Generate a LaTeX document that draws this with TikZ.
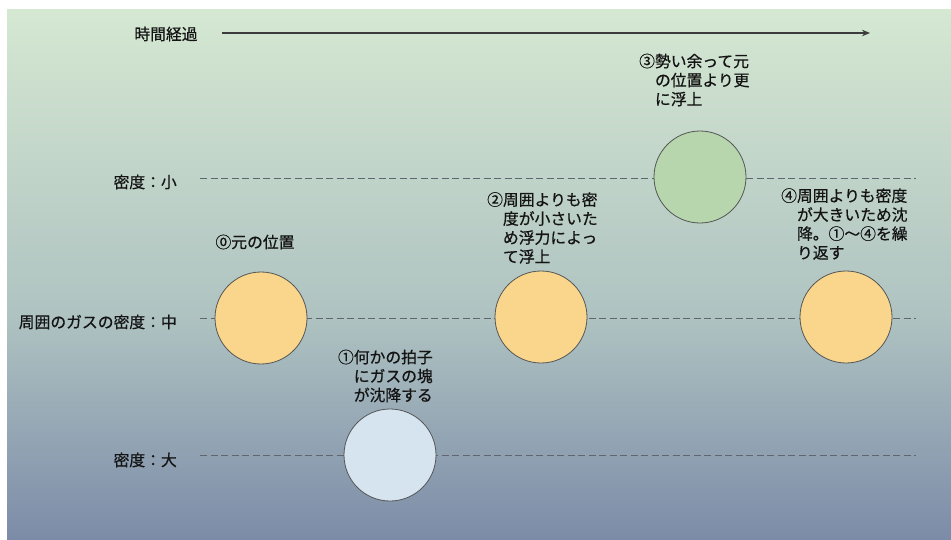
\documentclass[tikz,border=0pt]{standalone}
\usepackage{fontspec}
\setmainfont{Noto Sans CJK JP}[FakeBold=0.6]
\newfontfamily\jpfont{Noto Sans CJK JP}[FakeBold=0.6]
\usetikzlibrary{arrows.meta}
\definecolor{bgtop}{RGB}{213,232,210}
\definecolor{bgmid}{RGB}{174,194,193}
\definecolor{bgbot}{RGB}{124,140,168}
\definecolor{txtc}{RGB}{20,20,20}
\definecolor{dashc}{RGB}{95,102,110}
\definecolor{ballline}{RGB}{85,85,85}
\definecolor{ballorange}{RGB}{249,214,140}
\definecolor{ballgreen}{RGB}{183,214,173}
\definecolor{ballblue}{RGB}{214,228,240}
\definecolor{arrowc}{RGB}{60,60,60}
\begin{document}
\begin{tikzpicture}[x=1pt,y=-1pt,
  txt/.style={font=\jpfont\fontsize{15.8}{19}\selectfont, text=txtc, inner sep=0pt},
  ball/.style={circle, draw=ballline, line width=0.8pt, minimum size=92pt, inner sep=0pt},
  levelline/.style={draw=dashc, line width=1pt, dash pattern=on 7pt off 3.5pt}]
\useasboundingbox (0,0) rectangle (951,539);
\fill[white] (0,0) rectangle (951,539);
\shade[top color=bgtop, bottom color=bgmid] (7,9) rectangle (951,320);
\shade[top color=bgmid, bottom color=bgbot] (7,319.5) rectangle (951,539);

% time arrow
\node[txt] (time) at (166,34) {時間経過};
\coordinate (as) at (222,33);
\coordinate (ae) at (870,33);
\draw[arrowc, line width=1.8pt, -{Stealth[length=8pt,width=6.5pt]}] (as) -- (ae);

% level lines
\coordinate (l1s) at (200,178);
\coordinate (l1e) at (916,178);
\coordinate (l2s) at (200,318);
\coordinate (l2e) at (916,318);
\coordinate (l3s) at (200,455);
\coordinate (l3e) at (916,455);
\draw[levelline] (l1s) -- (l1e);
\draw[levelline] (l2s) -- (l2e);
\draw[levelline] (l3s) -- (l3e);

\node[txt, anchor=east] (lsmall) at (177,182) {密度：小};
\node[txt, anchor=east] (lmid) at (177,322) {周囲のガスの密度：中};
\node[txt, anchor=east] (lbig) at (177,460) {密度：大};

% balls
\node[ball, fill=ballorange] (b0) at (261,318) {};
\node[ball, fill=ballblue] (b1) at (390,455) {};
\node[ball, fill=ballorange] (b2) at (541,317) {};
\node[ball, fill=ballgreen] (b3) at (700,177) {};
\node[ball, fill=ballorange] (b4) at (846,317) {};

% captions
\node[txt] (t0) at (255,242) {⓪元の位置};
\node[txt, anchor=east, align=right] (t1) at (433,376) {①何かの拍子\\にガスの塊\\が沈降する};
\node[txt, anchor=west, align=left] (t2) at (487,228) {②周囲よりも密\\\hphantom{②}度が小さいた\\\hphantom{②}め浮力によっ\\\hphantom{②}て浮上};
\node[txt, anchor=west, align=left] (t3) at (639,80) {③勢い余って元\\\hphantom{③}の位置より更\\\hphantom{③}に浮上};
\node[txt, anchor=west, align=left] (t4) at (781,224) {④周囲よりも密度\\\hphantom{④}が大きいため沈\\\hphantom{④}降。①〜④を繰\\\hphantom{④}り返す};
\end{tikzpicture}
\end{document}
